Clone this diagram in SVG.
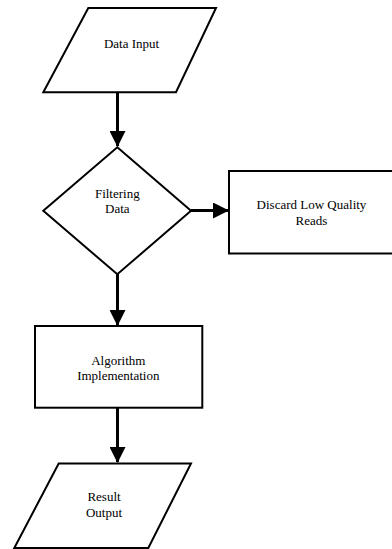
<svg xmlns="http://www.w3.org/2000/svg" width="392" height="549" viewBox="0 0 392 549">
<style>
.shape{fill:#fff;stroke:#000;stroke-width:2}
.lbl{font-family:'Liberation Serif','Times New Roman','DejaVu Serif',serif;font-size:13px;fill:#000;text-anchor:middle}
.conn{stroke:#000;stroke-width:3;fill:none}
</style>
<defs>
<marker id="arr" markerUnits="userSpaceOnUse" markerWidth="16" markerHeight="16" refX="15" refY="8" orient="auto">
<path d="M0,0 L16,8 L0,16 z" fill="#000"/>
</marker>
</defs>
<rect width="392" height="549" fill="#fff"/>
<g id="connectors">
<line class="conn" x1="117.5" y1="92" x2="117.5" y2="146" marker-end="url(#arr)"/>
<line class="conn" x1="191" y1="210.5" x2="228" y2="210.5" marker-end="url(#arr)"/>
<line class="conn" x1="117.5" y1="274" x2="117.5" y2="325" marker-end="url(#arr)"/>
<line class="conn" x1="117.5" y1="408" x2="117.5" y2="462" marker-end="url(#arr)"/>
</g>
<g id="data-input">
<polygon class="shape" points="88.3,8 216,8 176,92.3 43.3,92.3"/>
<text class="lbl" font-family="Liberation Serif, serif" x="131.5" y="47.5">Data Input</text>
</g>
<g id="filtering-data">
<polygon class="shape" points="117.3,147.3 191,210.7 117.3,274.3 43.3,210.7"/>
<text class="lbl" font-family="Liberation Serif, serif" x="117.3" y="197.5">Filtering</text>
<text class="lbl" font-family="Liberation Serif, serif" x="117.3" y="212.5">Data</text>
</g>
<g id="discard">
<rect class="shape" x="229" y="171" width="165" height="82.5"/>
<text class="lbl" font-family="Liberation Serif, serif" x="311.5" y="209">Discard Low Quality</text>
<text class="lbl" font-family="Liberation Serif, serif" x="311.5" y="225">Reads</text>
</g>
<g id="algorithm">
<rect class="shape" x="35" y="326" width="167.3" height="81.7"/>
<text class="lbl" font-family="Liberation Serif, serif" x="118.3" y="365">Algorithm</text>
<text class="lbl" font-family="Liberation Serif, serif" x="118.3" y="380">Implementation</text>
</g>
<g id="result-output">
<polygon class="shape" points="58.7,463.5 191,463.5 148.3,548 14.3,548"/>
<text class="lbl" font-family="Liberation Serif, serif" x="104" y="501">Result</text>
<text class="lbl" font-family="Liberation Serif, serif" x="104" y="517">Output</text>
</g>
</svg>
